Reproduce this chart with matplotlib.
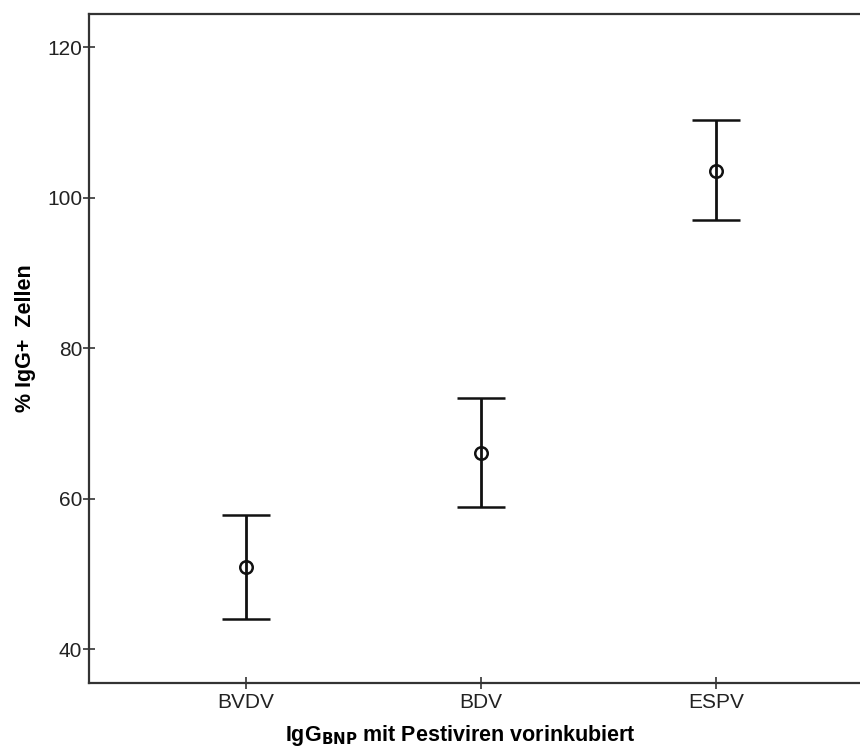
import matplotlib
matplotlib.use("Agg")
import matplotlib.pyplot as plt
import numpy as np

# Mittelwerte mit unterer/oberer Grenze je Virus
viren = ["BVDV", "BDV", "ESPV"]
mittel = [50.9, 66.05, 103.5]
untere = [44.0, 58.9, 97.0]
obere = [57.8, 73.35, 110.3]

plt.rcParams["font.family"] = ["Liberation Sans", "DejaVu Sans"]

fig = plt.figure(figsize=(8.6, 7.49), dpi=100)
ax = fig.add_axes([89 / 860, 1 - 683 / 749, (873 - 89) / 860, (683 - 14) / 749])

x = np.arange(1, len(viren) + 1)
mittel_arr = np.array(mittel)
yerr = [mittel_arr - np.array(untere), np.array(obere) - mittel_arr]

ax.errorbar(x, mittel_arr, yerr=yerr, fmt="o", mfc="none", mec="#111111",
            mew=1.8, ms=9, ecolor="#111111", elinewidth=2.0, capsize=17.5,
            capthick=2.0, zorder=3)

ax.set_xlim(0.332, 3.668)
ax.set_ylim(35.5, 124.4)
ax.set_xticks(x)
ax.set_xticklabels(viren)
ax.set_yticks([40, 60, 80, 100, 120])

ax.tick_params(axis="both", direction="inout", length=9, width=1.2,
               colors="#333333", labelcolor="#222222", labelsize=15)
ax.tick_params(axis="y", pad=0.5)
ax.tick_params(axis="x", pad=3)
for s in ax.spines.values():
    s.set_linewidth(1.6)
    s.set_color("#333333")

ax.set_ylabel("% IgG+  Zellen", fontsize=15.5, fontweight="bold", va="center")
ax.yaxis.set_label_coords(-(89 - 25) / (873 - 89), (683 - 338) / (683 - 14))
ax.set_xlabel(r"IgG$_{\mathbf{BNP}}$ mit Pestiviren vorinkubiert", fontsize=15.5,
              fontweight="bold", va="center")
ax.xaxis.set_label_coords((460 - 89) / (873 - 89), -(736 - 683) / (683 - 14))

fig.savefig("out.png", dpi=100)
